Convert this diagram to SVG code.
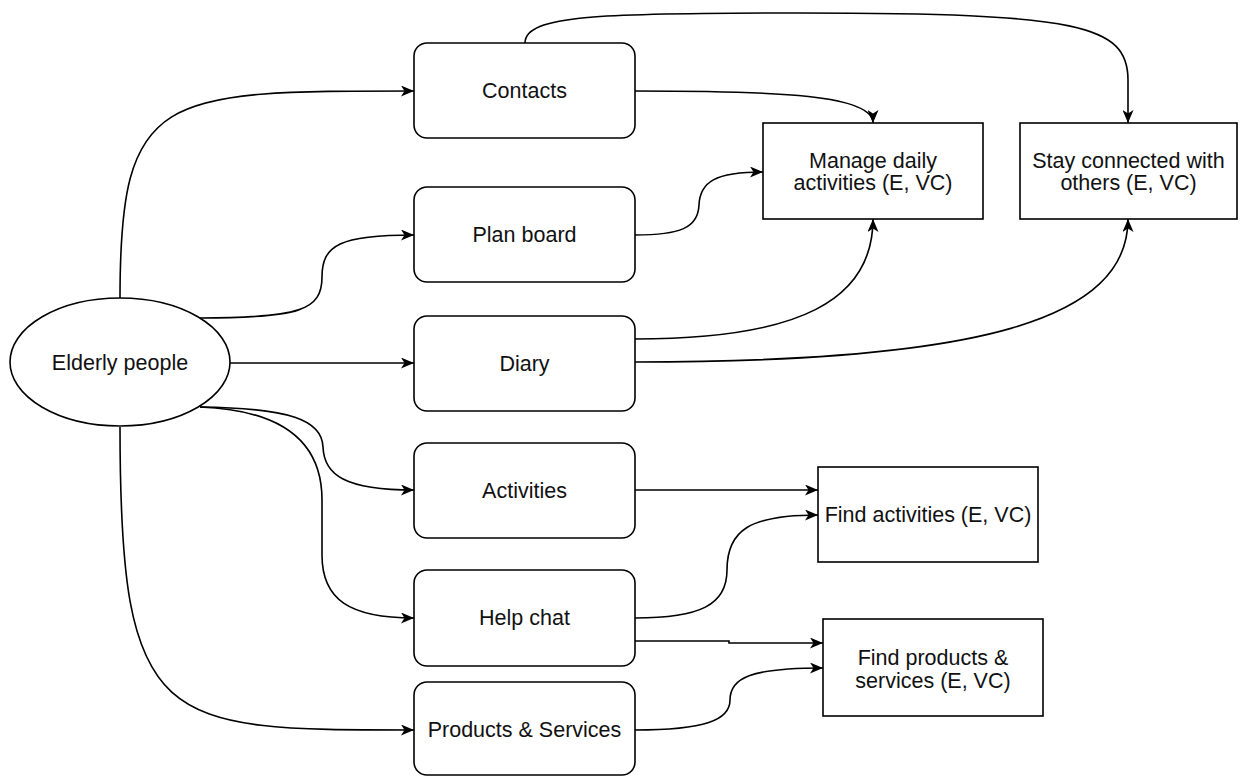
<svg xmlns="http://www.w3.org/2000/svg" width="1240" height="776" viewBox="0 0 1240 776">
<defs>
<style>
.box{fill:#fff;stroke:#000;stroke-width:1.6}
.lbl{font-family:"Liberation Sans",Arial,sans-serif;font-size:21.5px;fill:#111;text-anchor:middle}
.edge{fill:none;stroke:#000;stroke-width:1.6;marker-end:url(#arr)}
</style>
<marker id="arr" viewBox="0 0 13 11" refX="13" refY="5.5" markerWidth="13" markerHeight="11" orient="auto" markerUnits="userSpaceOnUse">
<path d="M0,0 L13,5.5 L0,11 L3.5,5.5 Z" fill="#000"/>
</marker>
</defs>
<rect width="1240" height="776" fill="#fff"/>
<g id="connectors">
<path class="edge" d="M120,298 C120,91 160,91 414,91"/>
<path class="edge" d="M200,318 C300,318 322,310 322,277 C322,245 340,235 414,235"/>
<path class="edge" d="M230,363 L414,363"/>
<path class="edge" d="M200,407 C290,408 322,420 323,447 C324,475 345,490 414,490"/>
<path class="edge" d="M200,407 C280,410 322,440 322,500 L322,555 C322,600 350,618 414,618"/>
<path class="edge" d="M120,427 C120,730 160,730 414,730"/>
<path class="edge" d="M635,91 C780,91 873,95 873,123"/>
<path class="edge" d="M525,43 C525,15 600,13 800,13 C1080,13 1128,25 1128,80 L1128,123"/>
<path class="edge" d="M635,235 C680,235 698,228 699,205 C700,182 715,172 763,172"/>
<path class="edge" d="M635,339 C800,339 873,300 873,219"/>
<path class="edge" d="M635,362 C980,362 1128,320 1128,219"/>
<path class="edge" d="M635,490 L818,490"/>
<path class="edge" d="M635,618 C700,618 727,605 727,570 C727,530 750,515 818,515"/>
<path class="edge" d="M635,641 L729,641 L729,643 L823,643"/>
<path class="edge" d="M635,730 C705,730 730,720 730,700 C730,678 750,668 823,668"/>
</g>
<g id="elderly">
<ellipse class="box" cx="120" cy="362" rx="110" ry="64"/>
<text class="lbl" x="120" y="370">Elderly people</text>
</g>
<g id="contacts">
<rect class="box" x="414" y="43" width="221" height="95" rx="13"/>
<text class="lbl" x="524.5" y="98">Contacts</text>
</g>
<g id="planboard">
<rect class="box" x="414" y="187" width="221" height="95" rx="13"/>
<text class="lbl" x="524.5" y="242">Plan board</text>
</g>
<g id="diary">
<rect class="box" x="414" y="316" width="221" height="95" rx="13"/>
<text class="lbl" x="524.5" y="371">Diary</text>
</g>
<g id="activities">
<rect class="box" x="414" y="443" width="221" height="95" rx="13"/>
<text class="lbl" x="524.5" y="498">Activities</text>
</g>
<g id="helpchat">
<rect class="box" x="414" y="570" width="221" height="96" rx="13"/>
<text class="lbl" x="524.5" y="625">Help chat</text>
</g>
<g id="products">
<rect class="box" x="414" y="682" width="221" height="93" rx="13"/>
<text class="lbl" x="524.5" y="737">Products &amp; Services</text>
</g>
<g id="manage">
<rect class="box" x="763" y="123" width="220" height="96"/>
<text class="lbl" x="873" y="168">Manage daily</text>
<text class="lbl" x="873" y="190">activities (E, VC)</text>
</g>
<g id="stay">
<rect class="box" x="1020" y="123" width="217" height="96"/>
<text class="lbl" x="1128.5" y="168">Stay connected with</text>
<text class="lbl" x="1128.5" y="190">others (E, VC)</text>
</g>
<g id="findact">
<rect class="box" x="818" y="467" width="220" height="95"/>
<text class="lbl" x="928" y="522">Find activities (E, VC)</text>
</g>
<g id="findprod">
<rect class="box" x="823" y="619" width="220" height="97"/>
<text class="lbl" x="933" y="665">Find products &amp;</text>
<text class="lbl" x="933" y="688">services (E, VC)</text>
</g>
</svg>
